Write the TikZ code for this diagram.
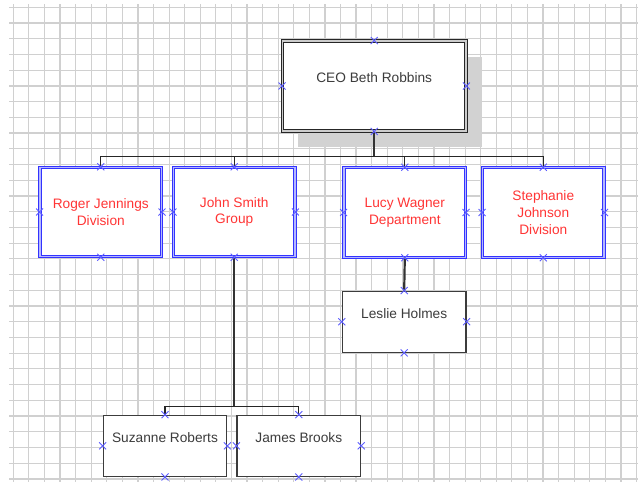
\documentclass[tikz,border=0pt]{standalone}
\usepackage{fontspec}
\setmainfont{Liberation Sans}
\usetikzlibrary{shadows}

\definecolor{boxblue}{HTML}{3333FF}
\definecolor{paleblue}{HTML}{B4B8FF}
\definecolor{namered}{HTML}{FF3535}
\definecolor{inkgray}{HTML}{3C3C3C}
\definecolor{gridgray}{HTML}{D0D0D0}
\definecolor{shadowgray}{HTML}{D2D2D2}

\tikzset{
	gridline/.style={gridgray, line width=1.2pt},
	namefont/.style={font=\fontsize{13.7}{16.7}\selectfont},
	unitbox/.style={namefont, draw=boxblue, double=paleblue, double distance=1.4pt, line width=0.9pt, fill=white,
		minimum width=121.5pt, minimum height=89.5pt, text=namered, align=center},
	ceobox/.style={namefont, draw=black!85, double=black!20, double distance=1.4pt, line width=0.9pt, fill=white,
		minimum width=183.5pt, minimum height=90pt, text=inkgray, text depth=17pt,
		drop shadow={shadow xshift=16pt, shadow yshift=-16pt, fill=shadowgray, opacity=1}},
	personbox/.style={namefont, draw=inkgray, line width=1.3pt, fill=white,
		minimum width=123.5pt, minimum height=61pt, text=inkgray, text depth=17pt},
	link/.style={black!85, line width=1.3pt},
	trunk/.style={black!80, line width=2.2pt},
	pinmark/.style={boxblue!80, line width=0.9pt}
}

\begin{document}
\begin{tikzpicture}[x=1pt, y=-1pt]
	\useasboundingbox (0,0) rectangle (638,482);
	\foreach \i in {0,...,40}
		\draw[gridline] ({13.3+15.58*\i},4) -- ({13.3+15.58*\i},482);
	\foreach \j in {0,...,30}
		\draw[gridline] (9,{7.3+15.72*\j}) -- (638,{7.3+15.72*\j});

	\node[ceobox] (ceo) at (374.2,86) {CEO Beth Robbins};

	\node[unitbox] (roger) at (100.8,212) {Roger Jennings\\Division};
	\node[unitbox] (john) at (234.2,212) {John Smith\\Group};
	\node[unitbox] (lucy) at (404.8,212.5) {Lucy Wagner\\Department};
	\node[unitbox] (stephanie) at (543.3,212.5) {Stephanie\\Johnson\\Division};

	\node[personbox] (leslie) at (404.2,321.7) {Leslie Holmes};
	\node[personbox] (suzanne) at (165,445.8) {Suzanne Roberts};
	\node[personbox] (james) at (298.8,445.8) {James Brooks};

	\coordinate (bus) at (374.2,156.5);
	\coordinate (fork) at (234.2,406.5);

	\draw[trunk] (ceo.south) -- (bus);
	\foreach \n in {roger,john,lucy,stephanie}
		\draw[link] (bus) -| (\n.north);
	\draw[trunk] (john.south) -- (fork);
	\draw[link] (fork) -| (suzanne.north);
	\draw[link] (fork) -| (james.north);
	\draw[trunk] (lucy.south) -- (leslie.north);

	\foreach \n in {ceo,roger,john,lucy,stephanie,leslie,suzanne,james}
		\foreach \a in {north,south,east,west}
			\draw[pinmark] (\n.\a) +(-3.5,-3.5) -- +(3.5,3.5) +(-3.5,3.5) -- +(3.5,-3.5);
\end{tikzpicture}
\end{document}
